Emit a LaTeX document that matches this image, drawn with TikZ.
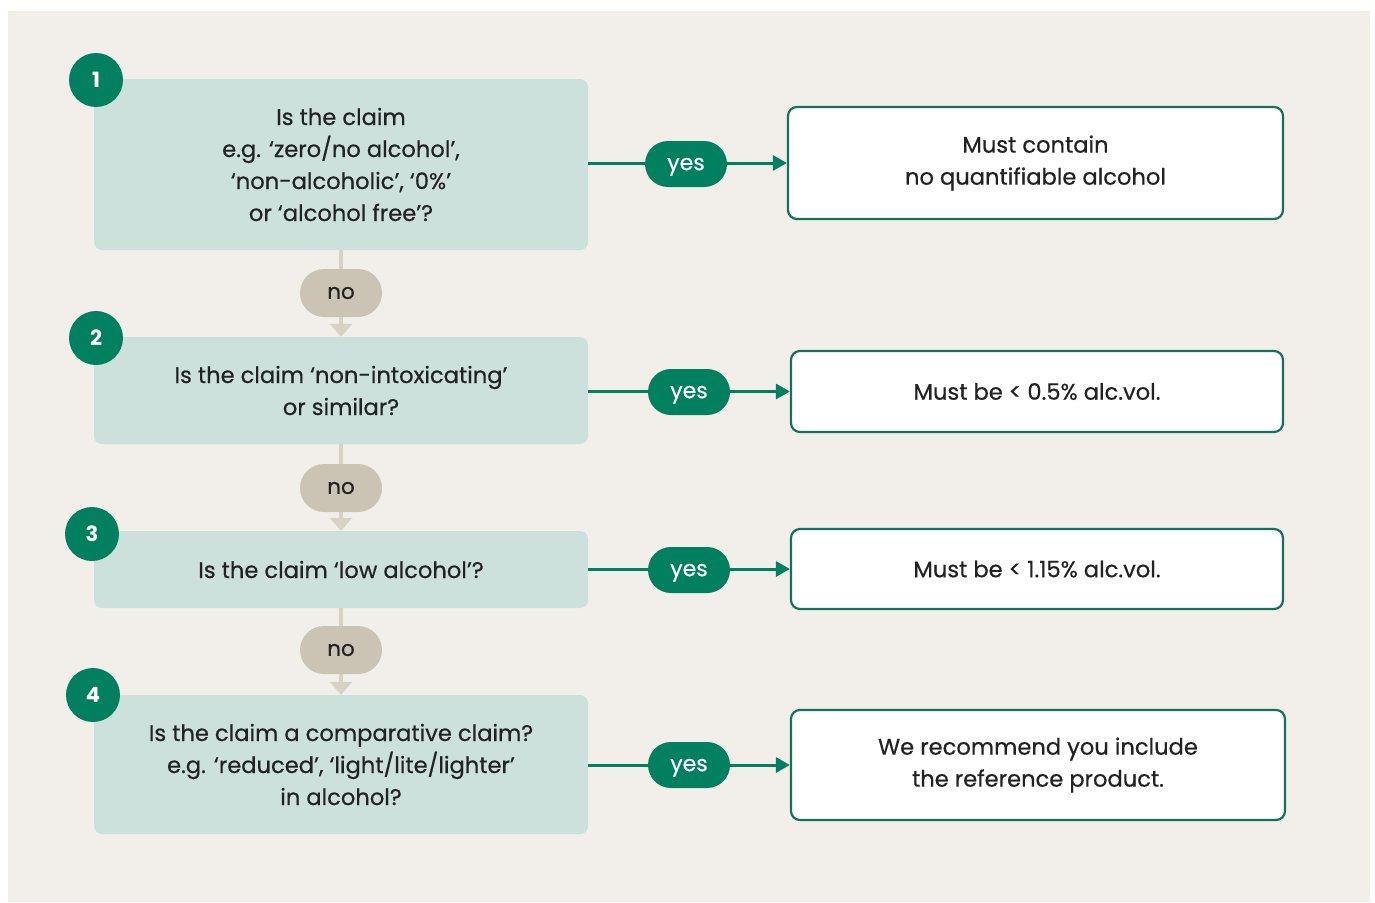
\documentclass[tikz,border=0pt]{standalone}
\usepackage{fontspec}
\setmainfont{Poppins}
\newfontfamily\medfont{Poppins}[FakeBold=0.5]
\usetikzlibrary{positioning,arrows.meta}
\definecolor{panelbg}{HTML}{F2EFEA}
\definecolor{qfill}{HTML}{CDE1DC}
\definecolor{mygreen}{HTML}{00805F}
\definecolor{boxgreen}{HTML}{16705A}
\definecolor{nofill}{HTML}{CBC4B5}
\definecolor{noline}{HTML}{D8D1C4}
\definecolor{txt}{HTML}{222222}

\begin{document}
\begin{tikzpicture}[
  x=1pt, y=-1pt,
  qbox/.style={fill=qfill,rounded corners=8pt,minimum width=494pt,align=center,
    text=txt,font=\medfont\fontsize{22.6}{32}\selectfont,inner sep=0pt},
  abox/.style={draw=boxgreen,line width=2.2pt,fill=white,rounded corners=9pt,
    minimum width=492pt,align=center,text=txt,font=\medfont\fontsize{22.6}{32}\selectfont,inner sep=0pt},
  num/.style={circle,fill=mygreen,minimum size=54pt,inner sep=0pt,text=white,
    font=\fontsize{21}{21}\selectfont\bfseries},
  yespill/.style={fill=mygreen,rounded corners=23pt,minimum width=82pt,minimum height=46pt,
    inner sep=0pt,text=white,font=\medfont\fontsize{22}{22}\selectfont,text depth=0pt},
  nopill/.style={fill=nofill,rounded corners=24pt,minimum width=82pt,minimum height=48pt,
    inner sep=0pt,text=txt,font=\medfont\fontsize{21.5}{21.5}\selectfont},
  yesarrow/.style={draw=mygreen,line width=3pt,-{Triangle[width=15pt,length=14pt]}},
  noarrow/.style={draw=noline,line width=4pt,-{Triangle[width=22pt,length=13pt]}}
]
\fill[white] (0,0) rectangle (1375,902);
\useasboundingbox (0,0) rectangle (1375,902);
\fill[panelbg] (8,11) rectangle (1370,902);

% questions
\node[qbox,minimum height=171pt] (Q1) at (341,164.5)
  {Is the claim\\e.g. ‘zero/no alcohol’,\\‘non-alcoholic’, ‘0\%’\\or ‘alcohol free’?};
\node[qbox,minimum height=107pt] (Q2) at (341,390.5)
  {Is the claim ‘non-intoxicating’\\or similar?};
\node[qbox,minimum height=77pt] (Q3) at (341,569.5)
  {Is the claim ‘low alcohol’?};
\node[qbox,minimum height=139pt] (Q4) at (341,764.5)
  {Is the claim a comparative claim?\\e.g. ‘reduced’, ‘light/lite/lighter’\\in alcohol?};

% answers
\node[abox,minimum height=112pt,minimum width=495pt] (A1) at (1035.5,163)
  {Must contain\\no quantifiable alcohol};
\node[abox,minimum height=81pt] (A2) at (1037,391.5) {Must be < 0.5\% alc.vol.};
\node[abox,minimum height=80pt] (A3) at (1037,569) {Must be < 1.15\% alc.vol.};
\node[abox,minimum height=110pt,minimum width=494pt] (A4) at (1038,765)
  {We recommend you include\\the reference product.};

% step numbers
\node[num] (N1) at (96,80) {1};
\node[num] (N2) at (96,338) {2};
\node[num] (N3) at (92,534) {3};
\node[num] (N4) at (93,695) {4};

% connectors
\draw[noarrow] (Q1.south) -- (Q2.north);
\draw[noarrow] (Q2.south) -- (Q3.north);
\draw[noarrow] (Q3.south) -- (Q4.north);
\draw[yesarrow] (Q1.east |- A1.west) -- (A1.west);
\draw[yesarrow] (Q2.east |- A2.west) -- (A2.west);
\draw[yesarrow] (Q3.east |- A3.west) -- (A3.west);
\draw[yesarrow] (Q4.east |- A4.west) -- (A4.west);

% labels
\node[nopill] (no1) at (341,293) {no};
\node[nopill] (no2) at (341,488) {no};
\node[nopill] (no3) at (341,650) {no};
\node[yespill] (yes1) at (686,164) {yes};
\node[yespill] (yes2) at (689,392) {yes};
\node[yespill] (yes3) at (689,570) {yes};
\node[yespill] (yes4) at (689,765) {yes};
\end{tikzpicture}
\end{document}
